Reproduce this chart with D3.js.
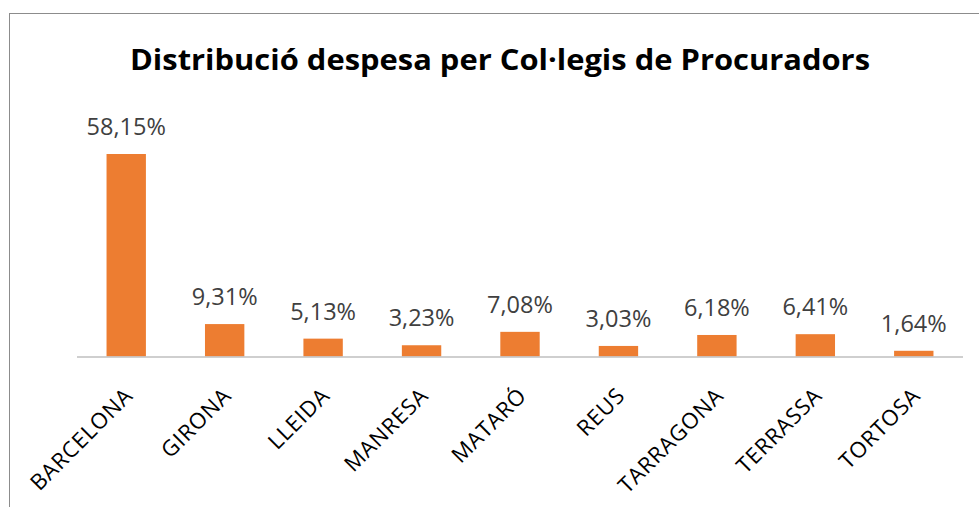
<!DOCTYPE html>
<meta charset="utf-8">
<body style="margin: 0; overflow: hidden; background: #fff">
<script src="https://cdn.jsdelivr.net/npm/d3@7"></script>
<script>
    var categories = ["BARCELONA", "GIRONA", "LLEIDA", "MANRESA", "MATARÓ", "REUS", "TARRAGONA", "TERRASSA", "TORTOSA"];
    var values = [58.15, 9.31, 5.13, 3.23, 7.08, 3.03, 6.18, 6.41, 1.64];
    var valueLabels = ["58,15%", "9,31%", "5,13%", "3,23%", "7,08%", "3,03%", "6,18%", "6,41%", "1,64%"];
    var title = "Distribució despesa per Col·legis de Procuradors";

    var width = 979, height = 507;
    var svg = d3.select("body").append("svg")
        .attr("width", width)
        .attr("height", height);

    // chart frame (right/bottom run off the picture)
    svg.append("rect")
        .attr("x", 9.5).attr("y", 13.5)
        .attr("width", 1200).attr("height", 800)
        .attr("fill", "none").attr("stroke", "#8c8c8c");

    svg.append("text")
        .attr("x", 500).attr("y", 70)
        .attr("text-anchor", "middle")
        .attr("font-family", "Open Sans, sans-serif")
        .attr("font-weight", "bold")
        .attr("font-size", 29)
        .attr("textLength", 740)
        .attr("lengthAdjust", "spacingAndGlyphs")
        .attr("fill", "#000")
        .text(title);

    var x = d3.scaleBand().domain(categories).range([77, 963]).paddingInner(0.6).paddingOuter(0.3);
    var y = d3.scaleLinear().domain([0, 58.15]).range([356.5, 154]);

    svg.selectAll("rect.bar").data(values).enter().append("rect")
        .attr("class", "bar")
        .attr("x", function (d, i) { return x(categories[i]); })
        .attr("width", x.bandwidth())
        .attr("y", function (d) { return y(d); })
        .attr("height", function (d) { return y(0) - y(d); })
        .attr("fill", "#ED7D31");

    svg.append("line")
        .attr("x1", 77).attr("x2", 963)
        .attr("y1", 357).attr("y2", 357)
        .attr("stroke", "#bfbfbf").attr("stroke-width", 1.5);

    svg.selectAll("text.val").data(values).enter().append("text")
        .attr("class", "val")
        .attr("x", function (d, i) { return x(categories[i]) + x.bandwidth() / 2; })
        .attr("y", function (d) { return y(d) - 19; })
        .attr("text-anchor", "middle")
        .attr("font-family", "Open Sans, sans-serif")
        .attr("font-size", 23.5)
        .attr("fill", "#404040")
        .text(function (d, i) { return valueLabels[i]; });

    svg.selectAll("text.cat").data(categories).enter().append("text")
        .attr("class", "cat")
        .attr("transform", function (d) {
            var cx = x(d) + x.bandwidth() / 2 + 8;
            return "translate(" + cx + ",397) rotate(-45)";
        })
        .attr("text-anchor", "end")
        .attr("font-family", "Open Sans, sans-serif")
        .attr("font-size", 22)
        .attr("letter-spacing", 0.8)
        .attr("fill", "#000")
        .text(function (d) { return d; });
</script>
